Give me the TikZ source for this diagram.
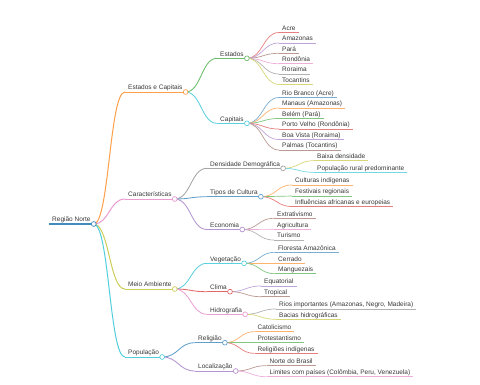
\documentclass[tikz,border=0pt]{standalone}
\usepackage{fontspec}
\setmainfont{Liberation Sans}
\usetikzlibrary{calc}
\definecolor{c0}{HTML}{1F77B4}
\definecolor{c1}{HTML}{FF7F0E}
\definecolor{c2}{HTML}{2CA02C}
\definecolor{c3}{HTML}{D62728}
\definecolor{c4}{HTML}{9467BD}
\definecolor{c5}{HTML}{8C564B}
\definecolor{c6}{HTML}{E377C2}
\definecolor{c7}{HTML}{7F7F7F}
\definecolor{c8}{HTML}{BCBD22}
\definecolor{c9}{HTML}{17BECF}
\tikzset{
  mm/.style={anchor=south west, inner xsep=3pt, inner ysep=0.6pt, text height=4.7pt, text depth=1.4pt,
    font=\fontsize{6.5}{7}\selectfont, text=black!78},
}
% node: name, colour, line width, x, y, text
\newcommand\mmN[6]{\node[mm] (#1) at (#4,#5) {#6};
  \draw[draw=#2, line width=#3] (#1.south west) -- (#1.south east);}
% link: parent, child, colour, width
\newcommand\mmL[4]{\draw[draw=#3, line width=#4] let \p1=(#1.south east), \p2=(#2.south west) in
  (\p1) .. controls ({(\x1+\x2)/2},\y1) and ({(\x1+\x2)/2},\y2) .. (\p2);}
% circle: node, colour
\newcommand\mmC[2]{\draw[draw=#2, fill=white, line width=0.7pt] (#1.south east) circle (2.4pt);}
\begin{document}
\begin{tikzpicture}[x=1pt,y=-1pt]
\useasboundingbox (0,0) rectangle (480,384);
% root
\mmN{r}{c0!85}{1.2pt}{49}{224}{Região Norte}
% level 1
\mmN{ec}{c1!75}{1pt}{125}{92}{Estados e Capitais}
\mmN{ca}{c6!75}{1pt}{125}{199}{Características}
\mmN{ma}{c8!75}{1pt}{125}{289}{Meio Ambiente}
\mmN{po}{c9!75}{1pt}{125}{357}{População}
% level 2
\mmN{es}{c2!70}{0.85pt}{217}{58.3}{Estados}
\mmN{cp}{c9!70}{0.85pt}{217}{123.3}{Capitais}
\mmN{dd}{c7!70}{0.85pt}{207}{168.3}{Densidade Demográfica}
\mmN{tc}{c0!70}{0.85pt}{207}{196.7}{Tipos de Cultura}
\mmN{eco}{c4!70}{0.85pt}{207}{229.5}{Economia}
\mmN{veg}{c9!70}{0.85pt}{207}{263.3}{Vegetação}
\mmN{cli}{c3!70}{0.85pt}{207}{291.7}{Clima}
\mmN{hid}{c6!70}{0.85pt}{207}{314.3}{Hidrografia}
\mmN{rel}{c0!70}{0.85pt}{195}{342.7}{Religião}
\mmN{loc}{c4!70}{0.85pt}{195}{371}{Localização}
% leaves: Estados
\mmN{e1}{c3!60}{0.7pt}{279}{32.5}{Acre}
\mmN{e2}{c4!60}{0.7pt}{279}{43}{Amazonas}
\mmN{e3}{c5!60}{0.7pt}{279}{53.3}{Pará}
\mmN{e4}{c6!60}{0.7pt}{279}{63.7}{Rondônia}
\mmN{e5}{c7!60}{0.7pt}{279}{74}{Roraima}
\mmN{e6}{c8!60}{0.7pt}{279}{84.4}{Tocantins}
% Capitais
\mmN{k1}{c0!60}{0.7pt}{279}{97.5}{Rio Branco (Acre)}
\mmN{k2}{c1!60}{0.7pt}{279}{108}{Manaus (Amazonas)}
\mmN{k3}{c2!60}{0.7pt}{279}{118.5}{Belém (Pará)}
\mmN{k4}{c3!60}{0.7pt}{279}{129}{Porto Velho (Rondônia)}
\mmN{k5}{c4!60}{0.7pt}{279}{139.5}{Boa Vista (Roraima)}
\mmN{k6}{c5!60}{0.7pt}{279}{150}{Palmas (Tocantins)}
% Densidade
\mmN{d1}{c8!60}{0.7pt}{314}{160.7}{Baixa densidade}
\mmN{d2}{c9!60}{0.7pt}{314}{172.3}{População rural predominante}
% Tipos de Cultura
\mmN{t1}{c1!60}{0.7pt}{292}{185}{Culturas indígenas}
\mmN{t2}{c2!60}{0.7pt}{292}{196}{Festivais regionais}
\mmN{t3}{c3!60}{0.7pt}{292}{206.5}{Influências africanas e europeias}
% Economia
\mmN{o1}{c5!60}{0.7pt}{274}{218.3}{Extrativismo}
\mmN{o2}{c6!60}{0.7pt}{274}{229.3}{Agricultura}
\mmN{o3}{c7!60}{0.7pt}{274}{240}{Turismo}
% Vegetação
\mmN{v1}{c0!60}{0.7pt}{275}{252.3}{Floresta Amazônica}
\mmN{v2}{c1!60}{0.7pt}{275}{263.3}{Cerrado}
\mmN{v3}{c2!60}{0.7pt}{275}{273.7}{Manguezais}
% Clima
\mmN{l1}{c4!60}{0.7pt}{261}{286}{Equatorial}
\mmN{l2}{c5!60}{0.7pt}{261}{296.7}{Tropical}
% Hidrografia
\mmN{h1}{c7!60}{0.7pt}{276}{309}{Rios importantes (Amazonas, Negro, Madeira)}
\mmN{h2}{c8!60}{0.7pt}{276}{319.3}{Bacias hidrográficas}
% Religião
\mmN{g1}{c1!60}{0.7pt}{254.5}{331.7}{Catolicismo}
\mmN{g2}{c2!60}{0.7pt}{254.5}{342.7}{Protestantismo}
\mmN{g3}{c3!60}{0.7pt}{254.5}{353.3}{Religiões indígenas}
% Localização
\mmN{z1}{c5!60}{0.7pt}{266.5}{365.7}{Norte do Brasil}
\mmN{z2}{c6!60}{0.7pt}{266.5}{376.7}{Limites com países (Colômbia, Peru, Venezuela)}
% links
\mmL{r}{ec}{c1!75}{1pt}
\mmL{r}{ca}{c6!75}{1pt}
\mmL{r}{ma}{c8!75}{1pt}
\mmL{r}{po}{c9!75}{1pt}
\mmL{ec}{es}{c2!70}{0.85pt}
\mmL{ec}{cp}{c9!70}{0.85pt}
\mmL{ca}{dd}{c7!70}{0.85pt}
\mmL{ca}{tc}{c0!70}{0.85pt}
\mmL{ca}{eco}{c4!70}{0.85pt}
\mmL{ma}{veg}{c9!70}{0.85pt}
\mmL{ma}{cli}{c3!70}{0.85pt}
\mmL{ma}{hid}{c6!70}{0.85pt}
\mmL{po}{rel}{c0!70}{0.85pt}
\mmL{po}{loc}{c4!70}{0.85pt}
\mmL{es}{e1}{c3!60}{0.7pt}
\mmL{es}{e2}{c4!60}{0.7pt}
\mmL{es}{e3}{c5!60}{0.7pt}
\mmL{es}{e4}{c6!60}{0.7pt}
\mmL{es}{e5}{c7!60}{0.7pt}
\mmL{es}{e6}{c8!60}{0.7pt}
\mmL{cp}{k1}{c0!60}{0.7pt}
\mmL{cp}{k2}{c1!60}{0.7pt}
\mmL{cp}{k3}{c2!60}{0.7pt}
\mmL{cp}{k4}{c3!60}{0.7pt}
\mmL{cp}{k5}{c4!60}{0.7pt}
\mmL{cp}{k6}{c5!60}{0.7pt}
\mmL{dd}{d1}{c8!60}{0.7pt}
\mmL{dd}{d2}{c9!60}{0.7pt}
\mmL{tc}{t1}{c1!60}{0.7pt}
\mmL{tc}{t2}{c2!60}{0.7pt}
\mmL{tc}{t3}{c3!60}{0.7pt}
\mmL{eco}{o1}{c5!60}{0.7pt}
\mmL{eco}{o2}{c6!60}{0.7pt}
\mmL{eco}{o3}{c7!60}{0.7pt}
\mmL{veg}{v1}{c0!60}{0.7pt}
\mmL{veg}{v2}{c1!60}{0.7pt}
\mmL{veg}{v3}{c2!60}{0.7pt}
\mmL{cli}{l1}{c4!60}{0.7pt}
\mmL{cli}{l2}{c5!60}{0.7pt}
\mmL{hid}{h1}{c7!60}{0.7pt}
\mmL{hid}{h2}{c8!60}{0.7pt}
\mmL{rel}{g1}{c1!60}{0.7pt}
\mmL{rel}{g2}{c2!60}{0.7pt}
\mmL{rel}{g3}{c3!60}{0.7pt}
\mmL{loc}{z1}{c5!60}{0.7pt}
\mmL{loc}{z2}{c6!60}{0.7pt}
% circles
\mmC{r}{c0!85}
\mmC{ec}{c1!75}
\mmC{ca}{c6!75}
\mmC{ma}{c8!75}
\mmC{po}{c9!75}
\mmC{es}{c2!70}
\mmC{cp}{c9!70}
\mmC{dd}{c7!70}
\mmC{tc}{c0!70}
\mmC{eco}{c4!70}
\mmC{veg}{c9!70}
\mmC{cli}{c3!70}
\mmC{hid}{c6!70}
\mmC{rel}{c0!70}
\mmC{loc}{c4!70}
\end{tikzpicture}
\end{document}
